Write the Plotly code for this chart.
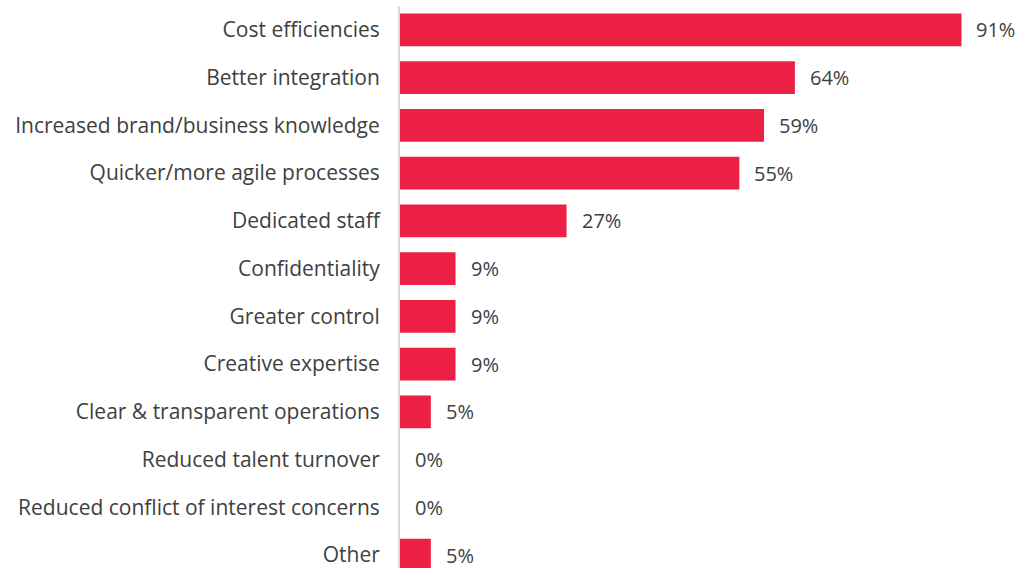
import plotly.graph_objects as go

categories = [
    "Cost efficiencies",
    "Better integration",
    "Increased brand/business knowledge",
    "Quicker/more agile processes",
    "Dedicated staff",
    "Confidentiality",
    "Greater control",
    "Creative expertise",
    "Clear & transparent operations",
    "Reduced talent turnover",
    "Reduced conflict of interest concerns",
    "Other",
]
values = [91, 64, 59, 55, 27, 9, 9, 9, 5, 0, 0, 5]

BAR_COLOR = "#EC1F45"
TEXT_COLOR = "#404040"
FONT = "'Open Sans', sans-serif"

fig = go.Figure(
    go.Bar(
        x=values,
        y=categories,
        orientation="h",
        marker=dict(color=BAR_COLOR, line=dict(width=0)),
        width=0.69,
        hoverinfo="skip",
    )
)

for cat, val in zip(categories, values):
    fig.add_annotation(
        x=val, y=cat, text=f"{val}%", showarrow=False,
        xanchor="left", xshift=13,
        font=dict(family=FONT, size=20, color=TEXT_COLOR),
    )

fig.update_layout(
    width=1017, height=568,
    margin=dict(l=400, r=0, t=6, b=0),
    paper_bgcolor="white", plot_bgcolor="white",
    showlegend=False,
    font=dict(family=FONT, size=20, color=TEXT_COLOR),
    xaxis=dict(range=[0, 100], visible=False, fixedrange=True),
    yaxis=dict(
        range=[11.27, -0.5], showgrid=False, zeroline=False,
        showline=True, linecolor="#D9D9D9", linewidth=2,
        ticks="", ticklabelstandoff=14,
        tickfont=dict(family=FONT, size=21, color=TEXT_COLOR),
    ),
)

fig.write_html("out.html")
